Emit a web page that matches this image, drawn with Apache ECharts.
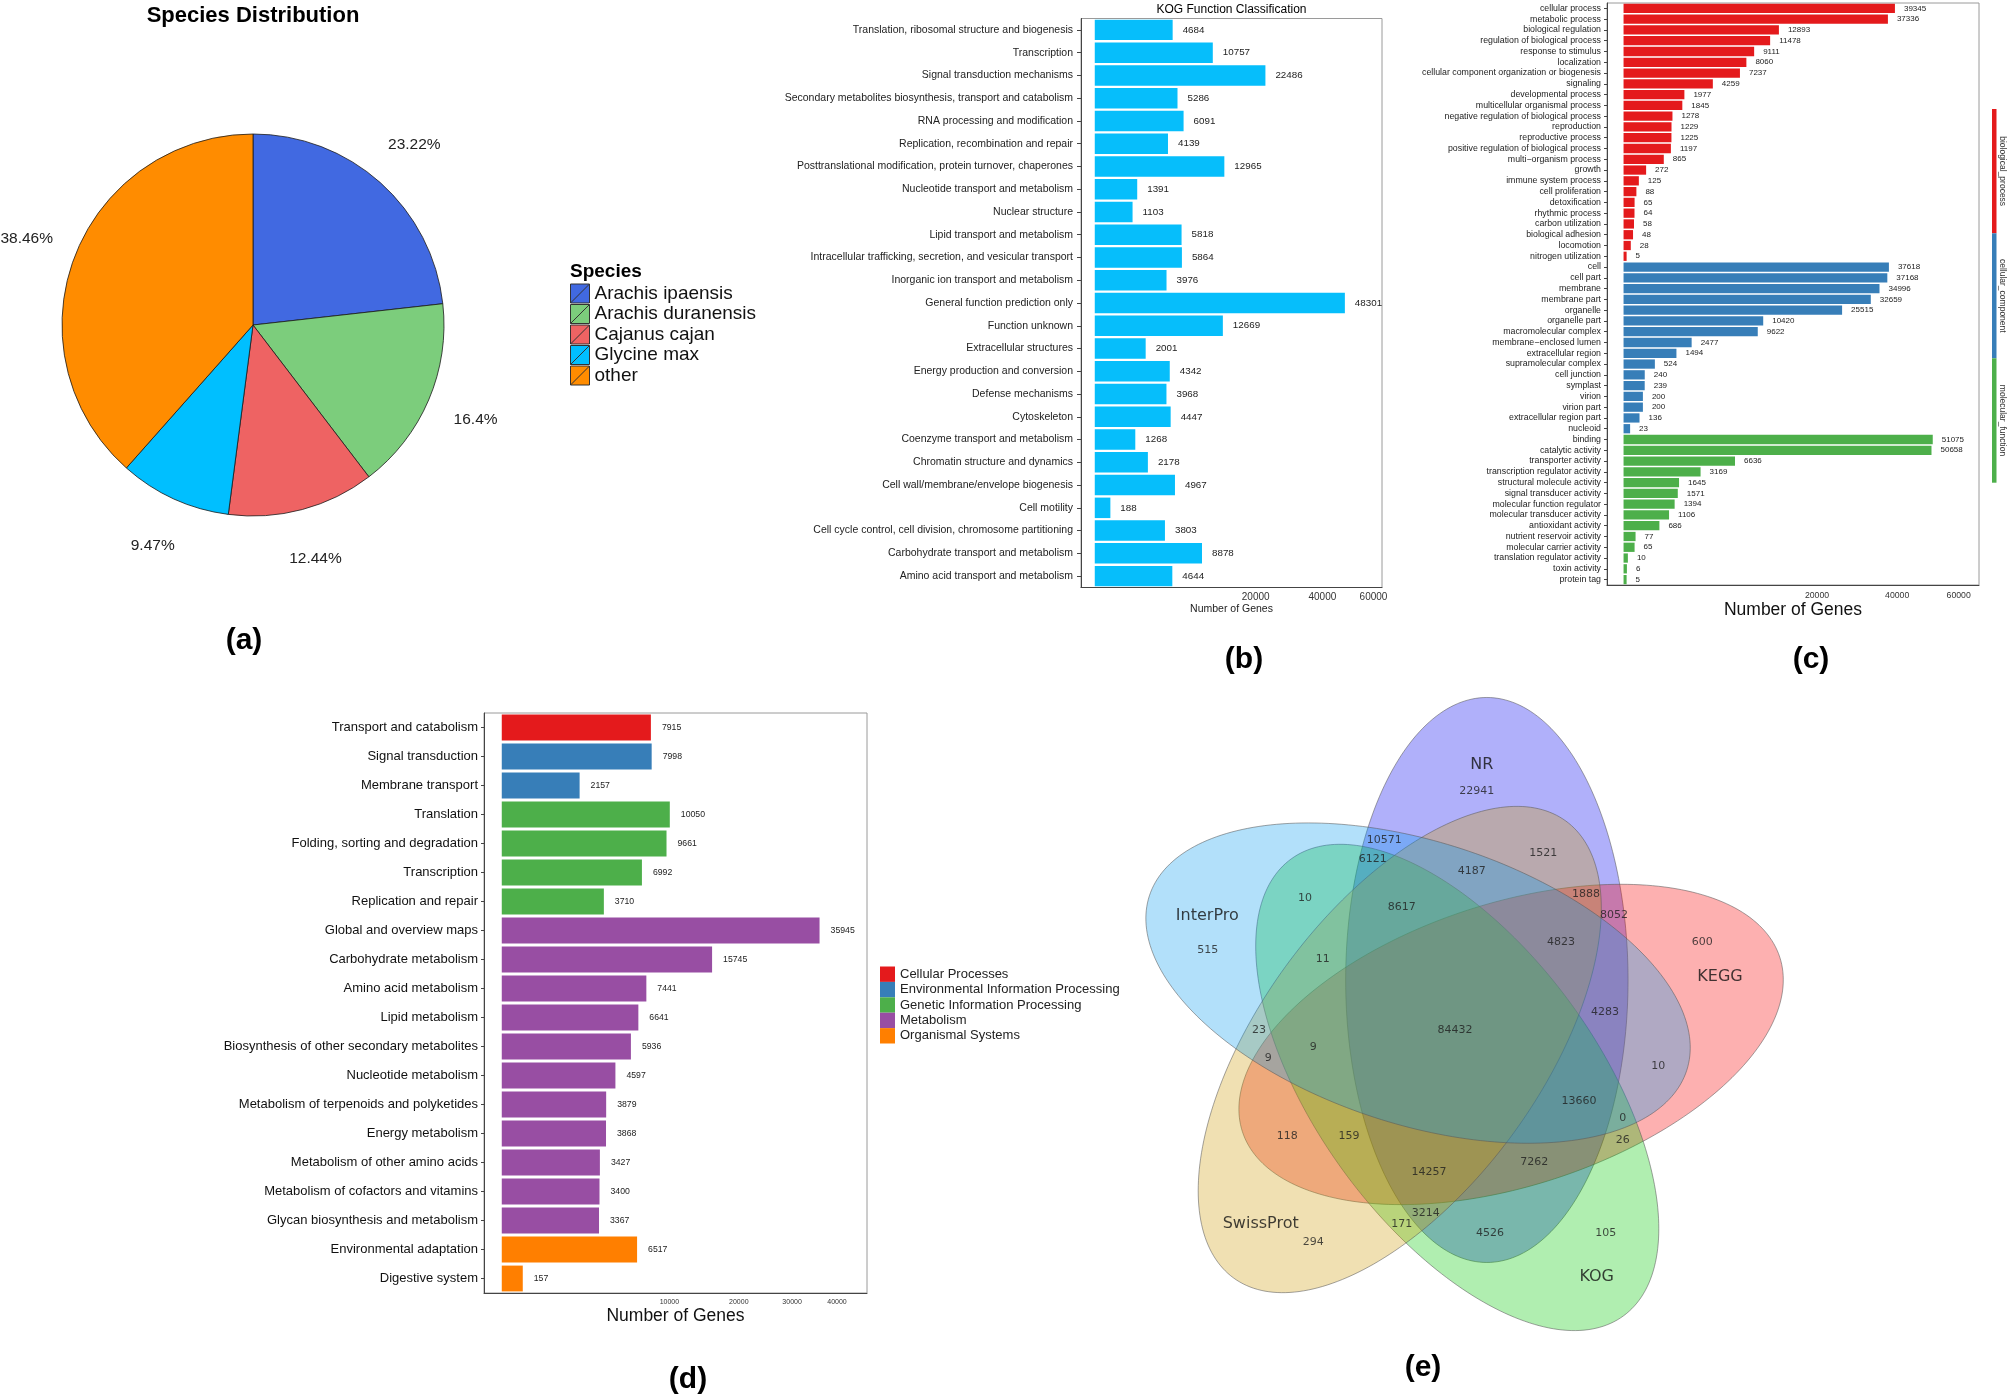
<!DOCTYPE html>
<html>
<head>
<meta charset="utf-8">
<title>Figure</title>
<script src="https://cdn.jsdelivr.net/npm/echarts@6.0.0/dist/echarts.min.js"></script>
<style>
html,body{margin:0;padding:0;background:#ffffff;}
#chart{width:2007px;height:1399px;}
</style>
</head>
<body>
<div id="chart"></div>
<script>
/* ================= DATA ================= */
/* (a) Species distribution (percent) */
const speciesNames = ['Arachis ipaensis', 'Arachis duranensis', 'Cajanus cajan', 'Glycine max', 'other'];
const speciesPercent = [23.22, 16.4, 12.44, 9.47, 38.46];

/* (b) KOG function classification */
const kogCategories = [
  'Translation, ribosomal structure and biogenesis',
  'Transcription',
  'Signal transduction mechanisms',
  'Secondary metabolites biosynthesis, transport and catabolism',
  'RNA processing and modification',
  'Replication, recombination and repair',
  'Posttranslational modification, protein turnover, chaperones',
  'Nucleotide transport and metabolism',
  'Nuclear structure',
  'Lipid transport and metabolism',
  'Intracellular trafficking, secretion, and vesicular transport',
  'Inorganic ion transport and metabolism',
  'General function prediction only',
  'Function unknown',
  'Extracellular structures',
  'Energy production and conversion',
  'Defense mechanisms',
  'Cytoskeleton',
  'Coenzyme transport and metabolism',
  'Chromatin structure and dynamics',
  'Cell wall/membrane/envelope biogenesis',
  'Cell motility',
  'Cell cycle control, cell division, chromosome partitioning',
  'Carbohydrate transport and metabolism',
  'Amino acid transport and metabolism'
];
const kogValues = [4684, 10757, 22486, 5286, 6091, 4139, 12965, 1391, 1103, 5818, 5864, 3976, 48301,
  12669, 2001, 4342, 3968, 4447, 1268, 2178, 4967, 188, 3803, 8878, 4644];
const kogTickValues = [20000, 40000, 60000];

/* (c) GO classification */
const goGroupNames = ['biological_process', 'cellular_component', 'molecular_function'];
const goBPCategories = ['cellular process', 'metabolic process', 'biological regulation', 'regulation of biological process',
  'response to stimulus', 'localization', 'cellular component organization or biogenesis', 'signaling',
  'developmental process', 'multicellular organismal process', 'negative regulation of biological process',
  'reproduction', 'reproductive process', 'positive regulation of biological process', 'multi\u2212organism process',
  'growth', 'immune system process', 'cell proliferation', 'detoxification', 'rhythmic process',
  'carbon utilization', 'biological adhesion', 'locomotion', 'nitrogen utilization'];
const goBPValues = [39345, 37336, 12893, 11478, 9111, 8060, 7237, 4259, 1977, 1845, 1278, 1229, 1225, 1197, 865,
  272, 125, 88, 65, 64, 58, 48, 28, 5];
const goCCCategories = ['cell', 'cell part', 'membrane', 'membrane part', 'organelle', 'organelle part',
  'macromolecular complex', 'membrane\u2212enclosed lumen', 'extracellular region', 'supramolecular complex',
  'cell junction', 'symplast', 'virion', 'virion part', 'extracellular region part', 'nucleoid'];
const goCCValues = [37618, 37168, 34996, 32659, 25515, 10420, 9622, 2477, 1494, 524, 240, 239, 200, 200, 136, 23];
const goMFCategories = ['binding', 'catalytic activity', 'transporter activity', 'transcription regulator activity',
  'structural molecule activity', 'signal transducer activity', 'molecular function regulator',
  'molecular transducer activity', 'antioxidant activity', 'nutrient reservoir activity',
  'molecular carrier activity', 'translation regulator activity', 'toxin activity', 'protein tag'];
const goMFValues = [51075, 50658, 6636, 3169, 1645, 1571, 1394, 1106, 686, 77, 65, 10, 6, 5];
const goTickValues = [20000, 40000, 60000];

/* (d) KEGG pathway classification */
const keggGroups = ['Cellular Processes', 'Environmental Information Processing', 'Genetic Information Processing',
  'Metabolism', 'Organismal Systems'];
const keggCategories = ['Transport and catabolism', 'Signal transduction', 'Membrane transport', 'Translation',
  'Folding, sorting and degradation', 'Transcription', 'Replication and repair', 'Global and overview maps',
  'Carbohydrate metabolism', 'Amino acid metabolism', 'Lipid metabolism',
  'Biosynthesis of other secondary metabolites', 'Nucleotide metabolism',
  'Metabolism of terpenoids and polyketides', 'Energy metabolism', 'Metabolism of other amino acids',
  'Metabolism of cofactors and vitamins', 'Glycan biosynthesis and metabolism', 'Environmental adaptation',
  'Digestive system'];
const keggValues = [7915, 7998, 2157, 10050, 9661, 6992, 3710, 35945, 15745, 7441, 6641, 5936, 4597, 3879, 3868,
  3427, 3400, 3367, 6517, 157];
const keggGroupOfCategory = [0, 1, 1, 2, 2, 2, 2, 3, 3, 3, 3, 3, 3, 3, 3, 3, 3, 3, 4, 4];
const keggTickValues = [10000, 20000, 30000, 40000];

/* (e) Venn diagram */
const vennSets = ['NR', 'KEGG', 'KOG', 'SwissProt', 'InterPro'];
const vennCounts = [22941, 10571, 6121, 1521, 4187, 10, 8617, 1888, 8052, 515, 11, 4823, 600, 4283, 84432,
  23, 9, 9, 10, 13660, 0, 26, 118, 159, 7262, 14257, 3214, 171, 294, 4526, 105];

/* ================= LAYOUT & STYLE ================= */
const FONT = "'Liberation Sans', Arial, Helvetica, sans-serif";
const VFONT = "'DejaVu Sans', Verdana, sans-serif";
const speciesColors = ['#4169E1', '#7CCD7C', '#EE6363', '#00BFFF', '#FF8C00'];
const goColors = ['#E41A1C', '#377EB8', '#4DAF4A'];
const keggColors = ['#E41A1C', '#377EB8', '#4DAF4A', '#984EA3', '#FF7F00'];
const vennColors = ['rgba(0,0,240,0.31)', 'rgba(250,0,0,0.31)', 'rgba(0,200,0,0.31)',
  'rgba(207,155,7,0.31)', 'rgba(7,155,239,0.31)'];
/* Venn geometry (venn units, 1 unit = 1 px, y up): ellipse centre x, centre y, major-axis angle */
const vennEllipseGeom = [[32.26, 48.92, 90], [56.50, -15.56, 18], [2.66, -58.54, -54],
  [-54.85, -20.62, 54], [-36.55, 45.80, -18]];
const vennSemiMajor = 282.5, vennSemiMinor = 141.2;
const vennSetLabelPos = [[27.1, 263.9], [265.4, 52.2], [142.1, -248.4], [-193.9, -195.1], [-247.3, 113.2]];
const vennCountPos = [[22.1, 237.9], [-70.3, 188.9], [-81.9, 169.6], [88.7, 175.6], [17.1, 157.9],
  [-149.6, 131.2], [-52.9, 122.2], [131.4, 134.6], [159.4, 113.6], [-246.9, 78.9], [-131.9, 69.6],
  [106.4, 87.2], [247.7, 87.2], [150.4, 16.6], [0.4, -1.1], [-195.6, -1.1], [-141.3, -18.4],
  [-186.3, -29.4], [203.7, -36.8], [124.4, -71.8], [168.1, -89.4], [168.1, -111.1], [-167.3, -107.1],
  [-105.6, -107.1], [79.7, -133.4], [-25.6, -142.8], [-28.9, -184.4], [-52.9, -195.1], [-141.3, -212.8],
  [35.4, -204.4], [151.1, -204.4]];

/* ================= BUILD ================= */
const sqrtOf = v => Math.sqrt(v);
const sqFmt = v => String(Math.round(v * v));

const goCategories = goBPCategories.concat(goCCCategories, goMFCategories);
const goValues = goBPValues.concat(goCCValues, goMFValues);
const goGroupOf = goBPValues.map(() => 0).concat(goCCValues.map(() => 1), goMFValues.map(() => 2));

function axisLineStyle() { return { show: true, onZero: false, lineStyle: { color: '#444', width: 1 } }; }

const grids = [
  { left: 1081, top: 18.5, width: 301, height: 569 },   // (b)
  { left: 1607, top: 3, width: 372, height: 582 },    // (c)
  { left: 484, top: 713, width: 383, height: 580 }, // (d)
  { left: 1124.6, top: 688.9, width: 660, height: 680 } // (e)
].map((g, i) => Object.assign({
  containLabel: false, outerBoundsMode: 'none',
  show: i < 3, borderColor: '#9a9a9a', borderWidth: 1, backgroundColor: 'transparent'
}, g));

const xAxes = [
  {
    gridIndex: 0, type: 'value', min: -12.1, max: 252.4,
    axisLine: axisLineStyle(), axisTick: { show: false }, splitLine: { show: false },
    axisLabel: { customValues: kogTickValues.map(sqrtOf), formatter: sqFmt, fontSize: 10, color: '#333', margin: 5 },
    name: 'Number of Genes', nameLocation: 'middle', nameGap: 15,
    nameTextStyle: { fontSize: 10.5, color: '#222' }
  },
  {
    gridIndex: 1, type: 'value', min: -12.1, max: 259.8,
    axisLine: axisLineStyle(), axisTick: { show: false }, splitLine: { show: false },
    axisLabel: { customValues: goTickValues.map(sqrtOf), formatter: sqFmt, fontSize: 8.7, color: '#333', margin: 6 },
    name: 'Number of Genes', nameLocation: 'middle', nameGap: 15,
    nameTextStyle: { fontSize: 17.5, color: '#111' }
  },
  {
    gridIndex: 2, type: 'value', min: -10.6, max: 217.9,
    axisLine: axisLineStyle(), axisTick: { show: false }, splitLine: { show: false },
    axisLabel: { customValues: keggTickValues.map(sqrtOf), formatter: sqFmt, fontSize: 7, color: '#333', margin: 6 },
    name: 'Number of Genes', nameLocation: 'middle', nameGap: 14,
    nameTextStyle: { fontSize: 17.5, color: '#111' }
  },
  { gridIndex: 3, type: 'value', min: -330, max: 330, show: false }
];

const yAxes = [
  {
    gridIndex: 0, type: 'category', data: kogCategories, inverse: true,
    axisLine: axisLineStyle(),
    axisTick: { show: true, alignWithLabel: true, length: 4, lineStyle: { color: '#444' } },
    axisLabel: { interval: 0, fontSize: 10.5, color: '#222', margin: 8 }
  },
  {
    gridIndex: 1, type: 'category', data: goCategories, inverse: true,
    axisLine: axisLineStyle(),
    axisTick: { show: true, alignWithLabel: true, length: 3, lineStyle: { color: '#444' } },
    axisLabel: { interval: 0, fontSize: 8.8, color: '#222', margin: 6 }
  },
  {
    gridIndex: 2, type: 'category', data: keggCategories, inverse: true,
    axisLine: axisLineStyle(),
    axisTick: { show: true, alignWithLabel: true, length: 3, lineStyle: { color: '#444' } },
    axisLabel: { interval: 0, fontSize: 13, color: '#111', margin: 6 }
  },
  { gridIndex: 3, type: 'value', min: -340, max: 340, show: false }
];

const series = [];

/* (a) pie */
series.push({
  type: 'pie', center: [253, 325], radius: 191, startAngle: 90, clockwise: true,
  silent: true, emphasis: { disabled: true },
  label: { show: false }, labelLine: { show: false },
  itemStyle: { borderColor: '#1a1a1a', borderWidth: 0.8 },
  data: speciesNames.map((n, i) => ({ name: n, value: speciesPercent[i], itemStyle: { color: speciesColors[i] } }))
});
series.push({
  type: 'pie', center: [253, 325], radius: [191, 287], startAngle: 90, clockwise: true,
  silent: true, emphasis: { disabled: true }, legendHoverLink: false,
  itemStyle: { color: 'rgba(0,0,0,0)', borderWidth: 0 },
  label: { show: true, position: 'inside', fontSize: 15.5, color: '#222', fontFamily: FONT,
    formatter: p => speciesPercent[p.dataIndex] + '%' },
  labelLine: { show: false },
  data: speciesNames.map((n, i) => ({ name: 'lbl ' + n, value: speciesPercent[i] }))
});

/* (b) KOG bars */
series.push({
  type: 'bar', xAxisIndex: 0, yAxisIndex: 0, barCategoryGap: '10%',
  silent: true, emphasis: { disabled: true },
  itemStyle: { color: '#06BEFB' },
  label: { show: true, position: 'right', distance: 10, fontSize: 9.8, color: '#222',
    formatter: p => String(kogValues[p.dataIndex]) },
  data: kogValues.map(sqrtOf)
});

/* (c) GO bars, one series per ontology */
goGroupNames.forEach((g, gi) => {
  series.push({
    type: 'bar', name: g, xAxisIndex: 1, yAxisIndex: 1, stack: 'go', barCategoryGap: '14%',
    silent: true, emphasis: { disabled: true },
    itemStyle: { color: goColors[gi] },
    label: { show: true, position: 'right', distance: 9, fontSize: 8, color: '#222',
      formatter: p => String(goValues[p.dataIndex]) },
    data: goValues.map((v, i) => goGroupOf[i] === gi ? Math.sqrt(v) : '-')
  });
});

/* (d) KEGG bars, one series per top-level group */
keggGroups.forEach((g, gi) => {
  series.push({
    type: 'bar', name: g, xAxisIndex: 2, yAxisIndex: 2, stack: 'kegg', barCategoryGap: '11%',
    silent: true, emphasis: { disabled: true },
    itemStyle: { color: keggColors[gi] },
    label: { show: true, position: 'right', distance: 11, fontSize: 8.7, color: '#222',
      formatter: p => String(keggValues[p.dataIndex]) },
    data: keggValues.map((v, i) => keggGroupOfCategory[i] === gi ? Math.sqrt(v) : '-')
  });
});

/* (e) Venn ellipses */
series.push({
  type: 'custom', xAxisIndex: 3, yAxisIndex: 3, silent: true, clip: false, z: 2,
  data: vennSets.map((s, i) => [i, 0]),
  renderItem: (params, api) => {
    const i = api.value(0);
    const g = vennEllipseGeom[i];
    const t = g[2] * Math.PI / 180, ct = Math.cos(t), st = Math.sin(t);
    const pts = [];
    for (let k = 0; k < 240; k++) {
      const u = k / 240 * Math.PI * 2;
      const lx = vennSemiMajor * Math.cos(u), ly = vennSemiMinor * Math.sin(u);
      pts.push(api.coord([g[0] + lx * ct - ly * st, g[1] + lx * st + ly * ct]));
    }
    return { type: 'polygon', shape: { points: pts },
      style: { fill: vennColors[i], stroke: 'rgba(90,90,90,0.55)', lineWidth: 1 } };
  }
});
series.push({
  type: 'scatter', xAxisIndex: 3, yAxisIndex: 3, silent: true, clip: false, z: 5,
  symbolSize: 1, itemStyle: { color: 'rgba(0,0,0,0)' },
  label: { show: true, position: 'inside', fontFamily: VFONT, fontSize: 11, color: '#1e1e1e',
    formatter: p => String(vennCounts[p.dataIndex]) },
  data: vennCountPos.map((p, i) => [p[0], p[1]])
});
series.push({
  type: 'scatter', xAxisIndex: 3, yAxisIndex: 3, silent: true, clip: false, z: 5,
  symbolSize: 1, itemStyle: { color: 'rgba(0,0,0,0)' },
  label: { show: true, position: 'inside', fontFamily: VFONT, fontSize: 16, color: '#111',
    formatter: p => vennSets[p.dataIndex] },
  data: vennSetLabelPos.map(p => [p[0], p[1]])
});

/* text & annotation elements */
function txt(x, y, text, size, weight, extra) {
  return Object.assign({ type: 'text', x: x, y: y, silent: true,
    style: { text: text, fontSize: size, fontWeight: weight || 'normal', fontFamily: FONT, fill: '#000',
      textAlign: 'center', textVerticalAlign: 'middle' } }, extra || {});
}
const goStrips = [[109, 233.3], [233.3, 358.3], [358.3, 482.7]];
const graphics = [
  txt(253, 16, 'Species Distribution', 22, 'bold'),
  txt(570, 272, 'Species', 19, 'bold'),
  txt(1231.5, 10, 'KOG Function Classification', 12, 'normal'),
  txt(244, 641, '(a)', 30, 'bold'),
  txt(1244, 660, '(b)', 30, 'bold'),
  txt(1811, 660, '(c)', 30, 'bold'),
  txt(688, 1380, '(d)', 30, 'bold'),
  txt(1423, 1368, '(e)', 30, 'bold')
];
graphics[1].style.textAlign = 'left';
goStrips.forEach((s, i) => {
  graphics.push({ type: 'rect', silent: true, shape: { x: 1992, y: s[0], width: 4.5, height: s[1] - s[0] },
    style: { fill: goColors[i] } });
  graphics.push({ type: 'text', silent: true, x: 2002, y: (s[0] + s[1]) / 2, rotation: -Math.PI / 2,
    style: { text: goGroupNames[i], fontSize: 8.5, fontFamily: FONT, fill: '#333',
      textAlign: 'center', textVerticalAlign: 'middle' } });
});

const option = {
  animation: false,
  backgroundColor: '#ffffff',
  textStyle: { fontFamily: FONT },
  grid: grids,
  xAxis: xAxes,
  yAxis: yAxes,
  legend: [
    {
      data: speciesNames, orient: 'vertical', left: 570, top: 283.5, padding: 0,
      itemWidth: 19, itemHeight: 20, itemGap: 0.5, selectedMode: false,
      icon: 'path://M0,0L20,0L20,20L0,20Z M0,20L20,0',
      itemStyle: { borderColor: '#333', borderWidth: 1 },
      textStyle: { fontSize: 19, color: '#111', fontFamily: FONT }
    },
    {
      data: keggGroups, orient: 'vertical', left: 880, top: 966.5, padding: 0,
      itemWidth: 15, itemHeight: 15.4, itemGap: 0, selectedMode: false, icon: 'rect',
      itemStyle: { borderWidth: 0 },
      textStyle: { fontSize: 13, color: '#222', fontFamily: FONT }
    }
  ],
  graphic: { elements: graphics },
  series: series
};

const chart = echarts.init(document.getElementById('chart'), null, { renderer: 'canvas', width: 2007, height: 1399 });
chart.setOption(option);
</script>
</body>
</html>
